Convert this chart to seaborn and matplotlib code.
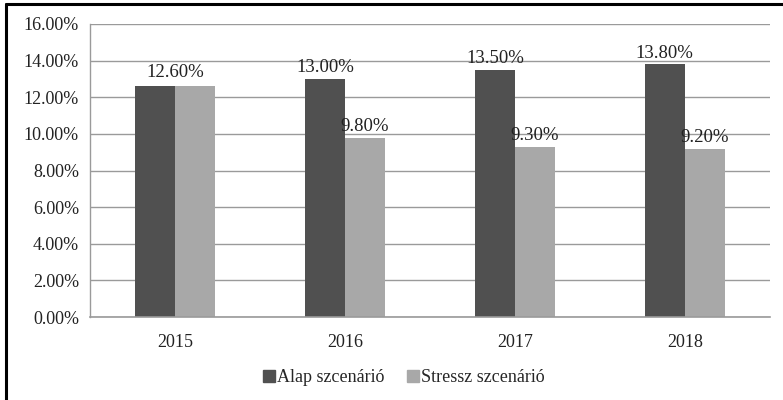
import matplotlib
matplotlib.use("Agg")
import matplotlib.pyplot as plt
import pandas as pd
import seaborn as sns
from matplotlib.ticker import FuncFormatter, MultipleLocator
from matplotlib.lines import Line2D

# data
years = ["2015", "2016", "2017", "2018"]
alap = [12.6, 13.0, 13.5, 13.8]
stressz = [12.6, 9.8, 9.3, 9.2]
series_names = ["Alap szcenárió", "Stressz szcenárió"]
colors = ["#505050", "#a8a8a8"]

df = pd.DataFrame({
    "Year": years * 2,
    "Value": alap + stressz,
    "Series": [series_names[0]] * len(years) + [series_names[1]] * len(years),
})

sns.set_style("white")
plt.rcParams["font.family"] = ["Liberation Serif", "DejaVu Serif"]

fig = plt.figure(figsize=(7.83, 4.0), dpi=100)
ax = fig.add_axes([0.115, 0.2075, 0.868, 0.7325])

sns.barplot(data=df, x="Year", y="Value", hue="Series", palette=colors,
            width=0.47, saturation=1, linewidth=0, ax=ax, legend=False, zorder=2)

ax.set_ylim(0, 16)
ax.yaxis.set_major_locator(MultipleLocator(2))
ax.yaxis.set_major_formatter(FuncFormatter(lambda v, p: f"{v:.2f}%"))
ax.grid(axis="y", color="#9a9a9a", linewidth=1, zorder=0)
ax.set_axisbelow(True)
ax.set_xlabel("")
ax.set_ylabel("")
ax.tick_params(axis="both", length=0, labelsize=13, colors="#222222")
ax.tick_params(axis="x", pad=12)
ax.tick_params(axis="y", pad=8)
for side in ["top", "right"]:
    ax.spines[side].set_visible(False)
ax.spines["left"].set_color("#9a9a9a")
ax.spines["bottom"].set_color("#9a9a9a")
ax.spines["left"].set_linewidth(1)
ax.spines["bottom"].set_linewidth(1.2)

# value labels; 2015 has equal values, so one label over the group
dark_bars, light_bars = ax.containers[0], ax.containers[1]
ax.bar_label(dark_bars, labels=[""] + [f"{v:.2f}%" for v in alap[1:]],
             fontsize=13.5, padding=2, color="#222222")
ax.bar_label(light_bars, labels=[""] + [f"{v:.2f}%" for v in stressz[1:]],
             fontsize=13.5, padding=2, color="#222222")
ax.annotate(f"{alap[0]:.2f}%", xy=(0, alap[0]), xytext=(0, 4),
            textcoords="offset points", ha="center", va="bottom",
            fontsize=13.5, color="#222222")

handles = [Line2D([], [], marker="s", linestyle="", markersize=8,
                  markerfacecolor=c, markeredgecolor=c) for c in colors]
fig.legend(handles, series_names, loc="center", bbox_to_anchor=(0.515, 0.055),
           ncol=2, frameon=False, fontsize=13, handletextpad=0.05,
           columnspacing=1.2, handlelength=0.8)

# frame lines on left and top of the picture
fig.add_artist(Line2D([0.008, 0.008], [0, 0.99], transform=fig.transFigure,
                      color="black", linewidth=2.2))
fig.add_artist(Line2D([0.008, 1.0], [0.99, 0.99], transform=fig.transFigure,
                      color="black", linewidth=2.2))

fig.savefig("out.png", dpi=100)
